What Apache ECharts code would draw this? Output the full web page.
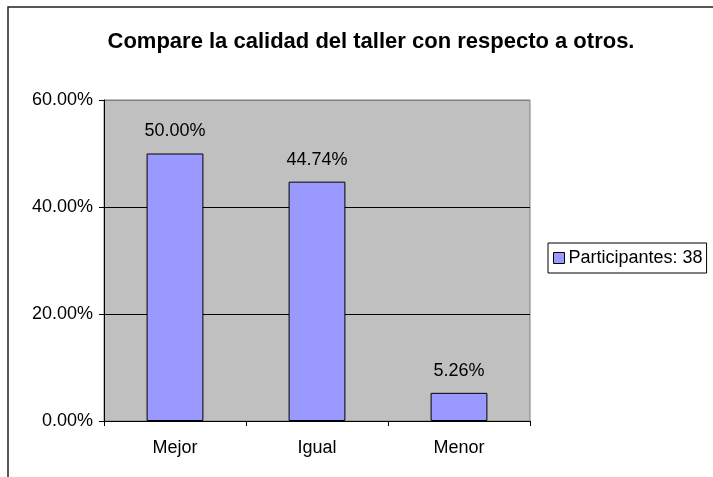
<!DOCTYPE html>
<html>
<head>
<meta charset="utf-8">
<script src="https://cdn.jsdelivr.net/npm/echarts@6/dist/echarts.min.js"></script>
<style>html,body{margin:0;padding:0;background:#fff;}#c{width:713px;height:477px;}</style>
</head>
<body>
<div id="c"></div>
<script>
var categories = ['Mejor', 'Igual', 'Menor'];
var values = [50.00, 44.74, 5.26];
var seriesName = 'Participantes: 38';
var titleText = 'Compare la calidad del taller con respecto a otros.';

var chart = echarts.init(document.getElementById('c'), null, {renderer: 'canvas'});
var font = 'Liberation Sans, Arial, sans-serif';
chart.setOption({
  animation: false,
  backgroundColor: '#ffffff',
  graphic: [
    {type: 'rect', shape: {x: 8, y: 7, width: 800, height: 600}, style: {fill: 'none', stroke: '#222', lineWidth: 1.5}, z: 100}
  ],
  title: {
    text: titleText, left: 366, top: 26, textAlign: 'center',
    textStyle: {fontFamily: font, fontSize: 22, fontWeight: 'bold', color: '#000'}
  },
  legend: {
    data: [{name: seriesName, icon: 'rect'}], left: 548, top: 243, orient: 'vertical',
    padding: [6, 4, 6, 5], itemWidth: 11, itemHeight: 11, itemGap: 0,
    borderColor: '#000', borderWidth: 1, backgroundColor: '#fff',
    textStyle: {fontFamily: font, fontSize: 18, color: '#000', padding: [0, 0, 0, -1]},
    itemStyle: {borderColor: '#000', borderWidth: 1}
  },
  grid: {left: 104, right: 183, top: 100, bottom: 56, show: true, backgroundColor: '#C0C0C0', borderColor: '#808080', borderWidth: 1},
  xAxis: {
    type: 'category', data: categories,
    axisLine: {lineStyle: {color: '#000', width: 1}},
    axisTick: {show: true, inside: false, length: 5, lineStyle: {color: '#000'}},
    axisLabel: {fontFamily: font, fontSize: 18, color: '#000', margin: 18}
  },
  yAxis: {
    type: 'value', min: 0, max: 60, interval: 20,
    axisLine: {show: true, lineStyle: {color: '#000', width: 1}},
    axisTick: {show: true, length: 5, lineStyle: {color: '#000'}},
    axisLabel: {fontFamily: font, fontSize: 18, color: '#000', margin: 11, formatter: function(v){return v.toFixed(2) + '%';}},
    splitLine: {show: true, lineStyle: {color: ['#000', '#000', '#000', '#808080'], width: 1}}
  },
  series: [{
    type: 'bar', name: seriesName, data: values, barWidth: '40%',
    itemStyle: {color: '#9999FF', borderColor: '#000', borderWidth: 1},
    label: {show: true, position: 'top', distance: 13, fontFamily: font, fontSize: 18, color: '#000',
      formatter: function(p){return p.value.toFixed(2) + '%';}}
  }]
});
</script>
</body>
</html>
